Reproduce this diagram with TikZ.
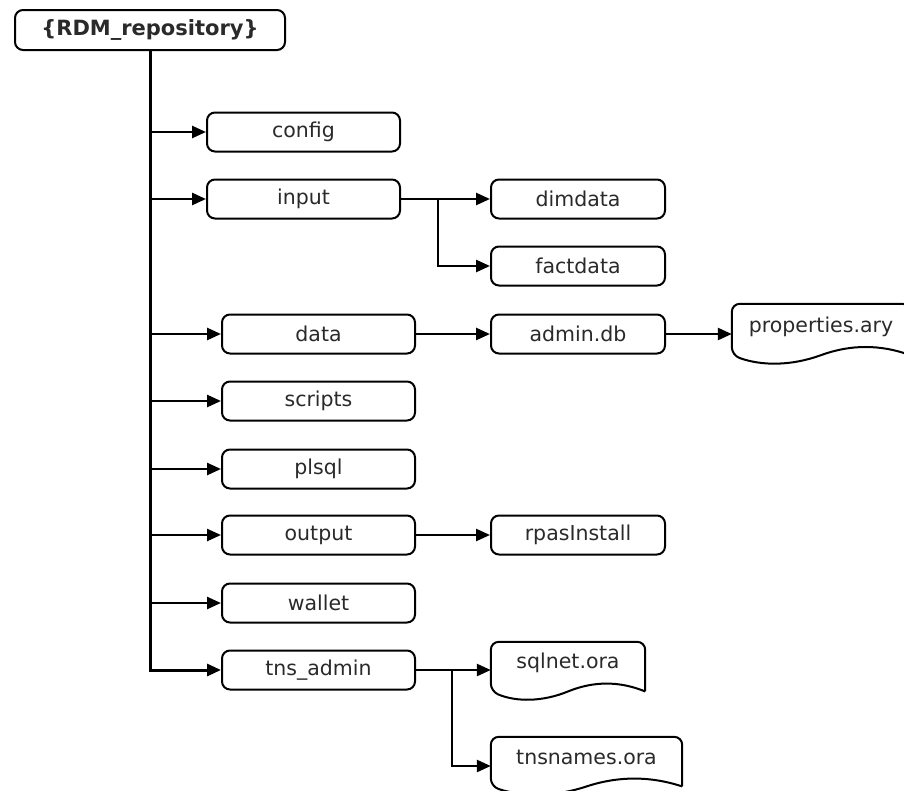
\documentclass[tikz,border=0pt]{standalone}
\usepackage{fontspec}
\setmainfont{DejaVu Sans}
\usetikzlibrary{arrows.meta,calc}
\definecolor{txt}{HTML}{2A2A2A}
\tikzset{
  dirbox/.style={draw=black, line width=2pt, rounded corners=8pt, minimum width=193pt, minimum height=39pt, inner sep=0pt, font=\fontsize{20.5}{24}\selectfont, text=txt},
  filebox/.style={dirbox, minimum width=174pt},
  rootbox/.style={dirbox, minimum width=270pt, minimum height=40pt, font=\fontsize{21}{24}\selectfont\bfseries},
  docnode/.style={inner sep=0pt},
  doctext/.style={inner sep=0pt, font=\fontsize{20.5}{24}\selectfont, text=txt},
  docline/.style={draw=black, line width=2pt},
  conn/.style={draw=black, line width=2.5pt, -{Triangle[length=14pt,width=12pt]}},
  trunk/.style={conn, line width=3pt},
}
\newcommand\docoutline[1]{%
  \draw[docline] let \p1=(#1.north west), \p2=(#1.south east), \n1={\x2-\x1}, \n2={\y1-\y2} in
    ({\x2}, {\y2+0.15*\n2*1pt}) [rounded corners=8pt] -- (\x2,\y1) -- (\x1,\y1) -- ({\x1}, {\y2+0.15*\n2*1pt}) [sharp corners]
    .. controls ({\x1+\n1/6*1pt}, {\y2-0.03*\n2*1pt}) and ({\x1+\n1/3*1pt}, {\y2-0.03*\n2*1pt}) .. ({\x1+\n1/2*1pt}, {\y2+0.15*\n2*1pt})
    .. controls ({\x1+2*\n1/3*1pt}, {\y2+0.33*\n2*1pt}) and ({\x1+5*\n1/6*1pt}, {\y2+0.33*\n2*1pt}) .. ({\x2}, {\y2+0.15*\n2*1pt});%
}
\begin{document}
\begin{tikzpicture}[x=1pt, y=-1pt]
\clip (0,0) rectangle (904,790);
\fill[white] (0,0) rectangle (904,790);

\node[rootbox] (root) at (150,30) {\{RDM\_repository\}};

\node[dirbox] (config) at (303.5,132) {config};
\node[dirbox] (input) at (303.5,199) {input};
\node[dirbox] (data) at (318.5,334) {data};
\node[dirbox] (scripts) at (318.5,401) {scripts};
\node[dirbox] (plsql) at (318.5,469) {plsql};
\node[dirbox] (output) at (318.5,535) {output};
\node[dirbox] (wallet) at (318.5,603) {wallet};
\node[dirbox] (tns) at (318.5,670) {tns\_admin};

\node[filebox] (dimdata) at (578,199) {dimdata};
\node[filebox] (factdata) at (578,266) {factdata};
\node[filebox] (admindb) at (578,334) {admin.db};
\node[filebox] (rpas) at (578,535) {rpasInstall};

\node[docnode, minimum width=178pt, minimum height=60pt] (props) at (821,334) {};
\node[doctext] (propsT) at ([yshift=7pt]props.center) {properties.ary};
\node[docnode, minimum width=154pt, minimum height=58pt] (sqlnet) at (568,671) {};
\node[doctext] (sqlnetT) at ([yshift=8pt]sqlnet.center) {sqlnet.ora};
\node[docnode, minimum width=191pt, minimum height=58pt] (tnsnames) at (586.5,766) {};
\node[doctext] (tnsnamesT) at ([yshift=9pt]tnsnames.center) {tnsnames.ora};

\docoutline{props}
\docoutline{sqlnet}
\docoutline{tnsnames}

% trunk
\draw[trunk] (root.south) -- (root.south |- tns.west) -- (tns.west);
\foreach \n in {config,input,data,scripts,plsql,output,wallet}
  \draw[conn] (root.south |- \n.west) -- (\n.west);

% input branch
\coordinate (ib) at (438,199);
\draw[conn] (input.east) -- (dimdata.west);
\draw[conn] (ib) -- (ib |- factdata.west) -- (factdata.west);

% data chain
\draw[conn] (data.east) -- (admindb.west);
\draw[conn] (admindb.east) -- (props.west);

% output
\draw[conn] (output.east) -- (rpas.west);

% tns branch
\coordinate (tb) at (452,670);
\draw[conn] (tns.east) -- (sqlnet.west |- tns.east);
\draw[conn] (tb) -- (tb |- tnsnames.west) -- (tnsnames.west);
\end{tikzpicture}
\end{document}
